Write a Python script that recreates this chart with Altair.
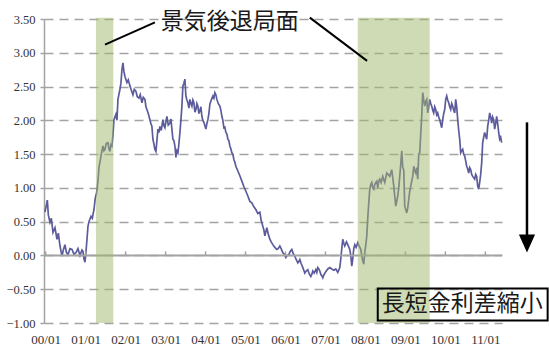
import altair as alt
import pandas as pd

# months since 2000-01 (x position) and yield spread values (%)
months = [-0.2,0.5,0.8,1.3,1.7,2.2,2.8,3.4,3.8,4.3,4.9,5.3,5.8,6.2,6.7,7.3,7.9,8.5,9.1,9.7,10.3,10.9,11.2,11.5,11.8,
          12.1,12.4,12.7,13.0,13.6,14.0,14.5,14.9,15.3,15.7,16.0,16.3,16.7,17.2,17.5,17.8,18.2,18.7,19.0,19.3,19.6,19.9,20.2,20.5,21.1,21.4,21.7,22.3,22.6,22.9,23.2,23.5,23.8,
          24.4,24.8,25.3,25.7,26.2,26.6,27.1,27.5,28.0,28.4,28.9,29.3,29.8,30.1,30.4,30.8,31.3,31.6,31.9,32.2,32.5,32.8,33.1,33.4,33.7,34.0,34.3,34.7,35.2,35.5,35.8,
          36.1,36.4,36.8,37.3,37.6,37.9,38.2,38.5,38.8,39.1,39.4,39.7,40.0,40.3,40.6,40.9,41.2,41.5,41.8,42.1,42.4,42.7,43.0,43.3,43.6,43.9,44.2,44.5,44.8,45.1,45.4,45.7,46.0,46.3,46.6,46.9,47.2,47.5,47.8,
          48.1,48.4,48.7,49.0,49.3,49.7,50.2,50.5,50.8,51.1,51.4,51.8,52.3,52.6,52.9,53.2,53.5,53.8,54.1,54.4,54.7,55.0,55.3,55.6,55.9,56.2,56.5,56.8,57.1,57.7,58.3,58.9,59.5,
          60.1,60.7,61.3,61.9,62.5,63.1,63.7,64.3,64.7,65.2,65.5,65.8,66.1,66.4,66.8,67.3,67.7,68.2,68.8,69.4,69.8,70.3,70.7,71.2,71.6,
          72.1,72.5,73.0,73.4,73.9,74.3,74.8,75.2,75.7,76.0,76.3,76.7,77.2,77.5,77.8,78.2,78.7,79.1,79.6,79.9,80.2,80.6,81.1,81.4,81.7,82.0,82.3,82.6,82.9,83.2,83.5,
          84.1,84.7,85.3,85.9,86.5,87.1,87.7,88.3,88.6,88.9,89.2,89.5,89.8,90.3,90.7,91.3,91.6,91.9,92.2,92.5,92.8,93.2,93.7,94.1,94.6,94.9,95.2,95.5,95.8,
          96.1,96.4,96.7,97.0,97.3,97.6,97.9,98.2,98.5,98.8,99.1,99.4,99.7,100.0,100.3,100.7,101.2,101.5,101.8,102.1,102.4,102.8,103.3,103.6,103.9,104.2,104.5,104.8,105.1,105.4,105.7,106.0,106.3,106.6,106.9,107.2,107.5,107.8,
          108.1,108.4,108.7,109.0,109.3,109.6,109.9,110.2,110.5,110.8,111.1,111.4,111.7,112.0,112.3,112.6,112.9,113.2,113.5,113.8,114.1,114.4,114.7,115.0,115.3,115.6,115.9,116.2,116.5,116.8,117.1,117.4,117.7,118.0,118.3,118.6,118.9,119.2,119.5,119.8,
          120.1,120.4,120.7,121.0,121.3,121.6,121.9,122.2,122.5,122.8,123.1,123.4,123.7,124.0,124.3,124.6,124.9,125.2,125.5,125.8,126.1,126.4,126.7,127.0,127.3,127.6,127.9,128.2,128.5,128.8,129.1,129.4,129.7,130.0,130.3,130.6,130.9,131.2,131.5,131.8,
          132.1,132.4,132.7,133.0,133.3,133.6,133.9,134.2,134.5,134.8,135.1,135.4,135.7,136.0,136.3,136.6,136.9]
values = [0.64,0.82,0.6,0.49,0.55,0.34,0.41,0.24,0.33,0.14,-0.01,0.08,0.16,0.05,0.01,0.1,0.09,0.02,0.04,0.1,0.0,0.08,0.06,-0.05,-0.1,
          0.05,0.24,0.43,0.5,0.58,0.55,0.68,0.85,0.93,1.1,1.3,1.38,1.5,1.62,1.55,1.57,1.66,1.67,1.58,1.54,1.64,1.62,1.78,2.01,2.09,2.0,2.31,2.46,2.55,2.75,2.85,2.72,2.65,
          2.56,2.6,2.51,2.45,2.38,2.46,2.43,2.35,2.33,2.38,2.26,2.34,2.31,2.2,2.16,2.1,2.01,1.95,1.91,1.72,1.65,1.57,1.54,1.7,1.87,1.82,1.91,1.85,2.01,1.92,1.89,
          1.98,2.06,1.93,1.96,2.02,1.87,1.72,1.7,1.62,1.45,1.55,1.52,1.65,1.82,2.0,2.21,2.51,2.55,2.61,2.36,2.3,2.26,2.18,2.31,2.25,2.21,2.3,2.26,2.12,2.16,2.25,2.21,2.1,2.14,2.2,2.06,2.0,1.97,1.92,
          1.87,1.95,2.01,2.1,2.24,2.3,2.36,2.33,2.41,2.38,2.31,2.25,2.21,2.15,2.06,2.0,1.89,1.9,1.82,1.8,1.72,1.7,1.62,1.58,1.52,1.5,1.42,1.38,1.32,1.25,1.18,1.1,1.02,
          0.95,0.88,0.8,0.78,0.72,0.68,0.62,0.64,0.52,0.43,0.38,0.29,0.35,0.41,0.32,0.24,0.2,0.16,0.12,0.09,0.1,0.14,0.1,0.04,0.02,
          -0.03,0.0,0.01,0.06,0.09,0.03,-0.01,-0.06,-0.11,-0.09,-0.06,-0.12,-0.18,-0.22,-0.26,-0.23,-0.21,-0.27,-0.31,-0.28,-0.23,-0.26,-0.21,-0.25,-0.18,-0.2,-0.23,-0.28,-0.3,-0.33,-0.29,
          -0.24,-0.2,-0.18,-0.2,-0.22,-0.2,-0.25,-0.18,-0.05,0.1,0.24,0.18,0.14,0.2,0.16,0.09,0.0,-0.16,-0.05,0.1,0.16,0.12,0.19,0.14,0.09,0.0,-0.08,-0.13,0.05,
          0.15,0.29,0.55,0.78,0.98,1.05,1.08,1.0,0.98,1.05,1.08,1.1,1.0,1.1,1.13,1.08,1.17,1.12,1.08,1.15,1.22,1.2,1.17,1.22,1.27,1.15,1.03,0.88,0.73,0.8,0.88,1.0,1.17,1.35,1.55,1.3,1.27,0.73,
          0.68,0.63,0.7,0.83,0.95,1.03,1.1,1.17,1.32,1.25,1.22,1.3,1.13,1.5,1.52,1.8,2.06,2.41,2.3,2.21,2.28,2.31,2.11,2.2,2.31,2.25,2.21,2.15,2.11,2.2,2.16,2.08,2.11,2.05,2.01,1.95,1.89,2.01,2.1,2.16,
          2.31,2.36,2.3,2.26,2.2,2.16,2.25,2.21,2.15,2.11,2.31,2.2,2.01,1.85,1.72,1.52,1.55,1.57,1.5,1.47,1.4,1.32,1.28,1.22,1.3,1.27,1.2,1.17,1.15,1.13,1.2,1.17,1.03,0.98,1.08,1.2,1.37,1.67,1.75,1.82,
          1.77,1.72,1.91,2.0,2.11,2.05,1.96,2.05,2.01,1.87,1.95,2.06,1.95,1.82,1.72,1.75,1.67]
assert len(months) == len(values), (len(months), len(values))

year_ticks = list(range(0, 133, 12))
y_ticks = [-1.0, -0.5, 0.0, 0.5, 1.0, 1.5, 2.0, 2.5, 3.0, 3.5]

# recession bands (months since 2000-01)
band_start = [15.1, 93.7]
band_end = [20.3, 115.3]

# annotation positions in data units
label_recession = "景気後退局面"
label_spread = "長短金利差縮小"
pointer_x1 = [17.8, 79.3]
pointer_y1 = [3.12, 3.52]
pointer_x2 = [32.8, 96.5]
pointer_y2 = [3.45, 2.88]

XMIN, XMAX = -0.5, 137
xs = alt.Scale(domain=[XMIN, XMAX], nice=False, zero=False)
ys = alt.Scale(domain=[-1, 3.5], nice=False, zero=False)

serif = "Liberation Serif"
cjk = "Noto Sans CJK JP"
grey = "#a3a3a3"

x_axis = alt.Axis(
    values=year_ticks, title=None, domain=False, ticks=False, tickSize=0, grid=False,
    labelExpr="(datum.value < 120 ? '0' : '') + floor(datum.value/12) + '/01'",
    labelFont=serif, labelFontSize=13, labelColor="#333333", labelPadding=10,
    labelFlush=False, labelOverlap=False)
y_axis = alt.Axis(
    values=y_ticks, format=".2f", title=None,
    grid=True, gridDash=[9, 6], gridColor=grey, gridWidth=1.5,
    domain=True, domainColor=grey, domainWidth=1.5,
    ticks=True, tickColor=grey, tickSize=4, tickWidth=1.5,
    labelFont=serif, labelFontSize=12.5, labelColor="#333333", labelPadding=5,
    labelFlush=False)


def X(f):
    return alt.X(f, type="quantitative", scale=xs, axis=x_axis)


def Y(f):
    return alt.Y(f, type="quantitative", scale=ys, axis=y_axis)


df = pd.DataFrame({"m": months, "v": values})

line = alt.Chart(df).mark_line(color="#5c5c9c", strokeWidth=1.7).encode(x=X("m"), y=Y("v"))

zero = alt.Chart(pd.DataFrame({"a": [XMIN], "b": [XMAX], "y": [0.0]})).mark_rule(
    color=grey, strokeWidth=2).encode(x=X("a"), x2="b", y=Y("y"))

xt = alt.Chart(pd.DataFrame({"t": year_ticks, "y0": [0.0] * len(year_ticks), "y1": [0.06] * len(year_ticks)})).mark_rule(
    color=grey, strokeWidth=1.5).encode(x=X("t"), y=Y("y0"), y2="y1")

bands = alt.Chart(pd.DataFrame({"s": band_start, "e": band_end, "lo": [-1.0, -1.0], "hi": [3.52, 3.52]})).mark_rect(
    color="#9fb86a", opacity=0.5).encode(x=X("s"), x2="e", y=Y("lo"), y2="hi")

pointers = alt.Chart(pd.DataFrame({"x1": pointer_x1, "y1": pointer_y1, "x2": pointer_x2, "y2": pointer_y2})).mark_rule(
    color="black", strokeWidth=2).encode(x=X("x1"), y=Y("y1"), x2="x2", y2="y2")

rec_text = alt.Chart(pd.DataFrame({"x": [55.3], "y": [3.45], "t": [label_recession]})).mark_text(
    font=cjk, fontSize=23, color="#1a1a1a", align="center", baseline="middle").encode(x=X("x"), y=Y("y"), text="t:N")

box = alt.Chart(pd.DataFrame({"a": [99.7], "b": [150.7], "lo": [-0.962], "hi": [-0.489]})).mark_rect(
    fill="white", fillOpacity=0, stroke="black", strokeWidth=2).encode(x=X("a"), x2="b", y=Y("lo"), y2="hi")

box_text = alt.Chart(pd.DataFrame({"x": [100.9], "y": [-0.725], "t": [label_spread]})).mark_text(
    font=cjk, fontSize=23, color="#1a1a1a", align="left", baseline="middle").encode(x=X("x"), y=Y("y"), text="t:N")

arrow = alt.Chart(pd.DataFrame({"x": [144.5], "a": [1.97], "b": [0.3]})).mark_rule(
    color="black", strokeWidth=2.5).encode(x=X("x"), y=Y("a"), y2="b")

head = alt.Chart(pd.DataFrame({"x": [144.5], "y": [0.178]})).mark_point(
    shape="M-0.9,-1L0.9,-1L0,1Z", filled=True, color="black", opacity=1, size=324, strokeWidth=0).encode(
    x=X("x"), y=Y("y"))

chart = alt.layer(line, zero, xt, bands, pointers, rec_text, box, box_text, arrow, head).properties(
    width=458, height=304,
    autosize=alt.AutoSizeParams(type="none"),
    padding={"left": 44, "top": 19, "right": 47, "bottom": 24},
    background="white",
).configure_view(stroke=None)

chart.save("out.html", embed_options={"renderer": "svg", "actions": False})
